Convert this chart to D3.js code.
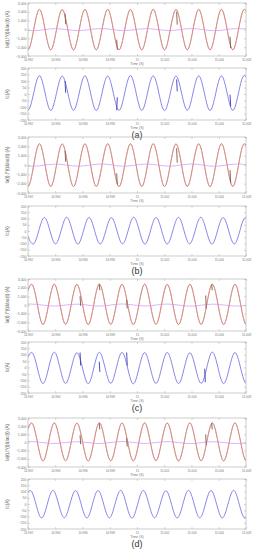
<!DOCTYPE html>
<html lang="en">

<head>
    <meta charset="utf-8">
    <title>Ia / Iac waveforms (a)-(d)</title>
    <script src="https://d3js.org/d3.v7.min.js"></script>
    <style type="text/css">
        body { margin: 0; background: #fff; }
        svg { display: block; }
        text { font-family: "Liberation Sans", Arial, sans-serif; }
    </style>
</head>

<body>
    <script type="text/javascript">

        //Width and height
        var w = 254,
            h = 550;

        // tick values / labels
        var timeTicks = [14.992, 14.994, 14.996, 14.998, 15, 15.002, 15.004, 15.006, 15.008];
        var timeLabels = ["14.992", "14.994", "14.996", "14.998", "15", "15.002", "15.004", "15.006", "15.008"];
        var topTicks = [-3000, -2000, -1000, 0, 1000, 2000, 3000];
        var bottomTicks = [-200, -150, -100, -50, 0, 50, 100, 150, 200];
        var panelNames = ["(a)", "(b)", "(c)", "(d)"];

        // load current, peaks and troughs [t, A]
        var topWaveAB = [[14.99116, 2260], [14.99200, -2290], [14.99284, 2280], [14.99367, -2300], [14.99451, 2260],
        [14.99534, -2310], [14.99618, 2270], [14.99701, -2300], [14.99785, 2280], [14.99868, -2310], [14.99952, 2270],
        [15.00035, -2300], [15.00119, 2280], [15.00202, -2310], [15.00286, 2260], [15.00369, -2300], [15.00453, 2270],
        [15.00536, -2310], [15.00620, 2280], [15.00703, -2300], [15.00787, 2270], [15.00870, -2300]];

        var topWaveCD = [[14.99144, -2250], [14.99227, 2380], [14.99310, -2250], [14.99393, 2400], [14.99476, -2230],
        [14.99559, 2380], [14.99642, -2260], [14.99724, 2410], [14.99807, -2240], [14.99890, 2390], [14.99973, -2250],
        [15.00056, 2400], [15.00139, -2230], [15.00222, 2380], [15.00305, -2260], [15.00388, 2400], [15.00471, -2240],
        [15.00553, 2390], [15.00636, -2250], [15.00719, 2400], [15.00802, -2250], [15.00885, 2380]];

        // small pink trace near zero
        var pinkAB = [[14.9912, 0], [14.9924, -130], [14.9940, 90], [14.9957, -120], [14.9974, 110], [14.9990, -130],
        [15.0007, 100], [15.0024, -120], [15.0040, 110], [15.0057, -140], [15.0073, 100], [15.0090, -110]];
        var pinkCD = [[14.9910, 60], [14.9922, 110], [14.9939, -120], [14.9956, 100], [14.9972, -130], [14.9989, 120],
        [15.0006, -120], [15.0022, 110], [15.0039, -130], [15.0056, 100], [15.0072, -120], [15.0090, 90]];

        // compensating current [t, A]
        var bottomA = [[14.99116, 140], [14.99200, -124], [14.99284, 141], [14.99367, -127], [14.99451, 138],
        [14.99534, -125], [14.99618, 140], [14.99701, -127], [14.99785, 138], [14.99868, -126], [14.99952, 142],
        [15.00035, -126], [15.00119, 140], [15.00202, -128], [15.00286, 138], [15.00369, -125], [15.00453, 140],
        [15.00536, -127], [15.00620, 139], [15.00703, -126], [15.00787, 142], [15.00870, -125]];

        var bottomB = [[14.99156, 106], [14.99238, -104], [14.99320, 108], [14.99402, -103], [14.99484, 110],
        [14.99566, -105], [14.99648, 108], [14.99730, -104], [14.99812, 107], [14.99894, -103], [14.99976, 110],
        [15.00058, -105], [15.00140, 108], [15.00222, -104], [15.00304, 109], [15.00386, -103], [15.00468, 110],
        [15.00550, -105], [15.00632, 108], [15.00714, -104], [15.00796, 107], [15.00878, -104]];

        var bottomC = [[14.99144, -124], [14.99227, 118], [14.99310, -126], [14.99393, 120], [14.99476, -125],
        [14.99559, 116], [14.99642, -127], [14.99724, 119], [14.99807, -124], [14.99890, 118], [14.99973, -128],
        [15.00056, 117], [15.00139, -125], [15.00222, 118], [15.00305, -126], [15.00388, 116], [15.00471, -124],
        [15.00553, 121], [15.00636, -126], [15.00719, 117], [15.00802, -125], [15.00885, 118]];

        var bottomD = [[14.99134, -110], [14.99217, 108], [14.99300, -112], [14.99383, 109], [14.99466, -110],
        [14.99549, 107], [14.99632, -112], [14.99714, 108], [14.99797, -111], [14.99880, 109], [14.99963, -113],
        [15.00046, 108], [15.00129, -110], [15.00212, 107], [15.00295, -112], [15.00378, 109], [15.00461, -111],
        [15.00543, 108], [15.00626, -112], [15.00709, 109], [15.00792, -113], [15.00875, 108]];

        // switching spikes [t, from, to]
        var spikesTopA = [[14.99472, 1800, 600], [14.99851, -1150, -2300], [15.00291, 2000, 550], [15.00683, -800, -2100]];
        var spikesTopB = [[14.99472, 1500, 350], [14.99851, -900, -2100], [15.00291, 1800, 250], [15.00683, -550, -1900]];
        var spikesTopC = [[14.99582, 1000, -100], [14.99723, 2400, 1700], [14.99924, 600, -400], [15.00504, 1100, -400], [15.00548, 2400, 1700]];
        var spikesTopD = [[14.99582, 900, -200], [14.99723, 2350, 1600], [14.99924, 500, -500], [15.00504, 1000, -300], [15.00548, 2400, 1600]];
        var spikesBottomA = [[14.99472, 100, 10], [14.99851, -125, -25], [15.00291, 112, 20], [15.00683, -5, -95]];
        var spikesBottomC = [[14.99582, 118, 15], [14.99723, 45, -35], [14.99924, 118, 15], [15.00497, -10, -115]];

        // layout of each panel: top plot [y0, y1], bottom plot [y0, y1], letter baseline
        var panels = [
            { top: [3, 56], bot: [68, 120], letter: 137.7, main: topWaveAB, pink: pinkAB, spikes: spikesTopA, cur: bottomA, curSpikes: spikesBottomA },
            { top: [137, 193], bot: [206, 256], letter: 273.7, main: topWaveAB, pink: pinkAB, spikes: spikesTopB, cur: bottomB, curSpikes: [] },
            { top: [279, 331], bot: [342, 393], letter: 410.7, main: topWaveCD, pink: pinkCD, spikes: spikesTopC, cur: bottomC, curSpikes: spikesBottomC },
            { top: [418, 467], bot: [479, 529], letter: 546.7, main: topWaveCD, pink: pinkCD, spikes: spikesTopD, cur: bottomD, curSpikes: [] }
        ];

        var xScale = d3.scaleLinear()
            .domain([14.992, 15.008])
            .range([28, 246]);

        //Create SVG element
        var svg = d3.select("body")
            .append("svg")
            .attr("width", w)
            .attr("height", h);

        var clipId = 0;

        function drawPlot(y0, y1, ticks, yLabel, series, spikes) {
            var yScale = d3.scaleLinear()
                .domain([ticks[0], ticks[ticks.length - 1]])
                .range([y1, y0]);

            var g = svg.append("g");

            clipId++;
            g.append("clipPath")
                .attr("id", "clip" + clipId)
                .append("rect")
                .attr("x", 28)
                .attr("y", y0)
                .attr("width", 218)
                .attr("height", y1 - y0);

            var line = d3.line()
                .x(function (d) { return xScale(d[0]); })
                .y(function (d) { return yScale(d[1]); })
                .curve(d3.curveMonotoneX);

            var plot = g.append("g").attr("clip-path", "url(#clip" + clipId + ")");

            series.forEach(function (s) {
                plot.append("path")
                    .datum(s.data)
                    .attr("d", line)
                    .attr("fill", "none")
                    .attr("stroke", s.color)
                    .attr("stroke-width", s.width)
                    .attr("opacity", s.opacity);
            });

            plot.selectAll("line.spike").data(spikes.data)
                .enter()
                .append("line")
                .attr("class", "spike")
                .attr("x1", function (d) { return xScale(d[0]); })
                .attr("x2", function (d) { return xScale(d[0]) + 0.6; })
                .attr("y1", function (d) { return yScale(d[1]); })
                .attr("y2", function (d) { return yScale(d[2]); })
                .attr("stroke", spikes.color)
                .attr("stroke-width", 0.9);

            // axes, ticks pointing inward
            var left = g.append("g")
                .attr("transform", "translate(28,0)")
                .call(d3.axisLeft(yScale).tickValues(ticks).tickSizeInner(-2).tickSizeOuter(0).tickPadding(1.5));
            var right = g.append("g")
                .attr("transform", "translate(246,0)")
                .call(d3.axisRight(yScale).tickValues(ticks).tickSizeInner(-2).tickSizeOuter(0).tickFormat(""));
            var bottom = g.append("g")
                .attr("transform", "translate(0," + y1 + ")")
                .call(d3.axisBottom(xScale).tickValues(timeTicks).tickSizeInner(-2).tickSizeOuter(0).tickPadding(2.5)
                    .tickFormat(function (d, i) { return timeLabels[i]; }));
            var top = g.append("g")
                .attr("transform", "translate(0," + y0 + ")")
                .call(d3.axisTop(xScale).tickValues(timeTicks).tickSizeInner(-2).tickSizeOuter(0).tickFormat(""));

            [left, right, bottom, top].forEach(function (a) {
                a.select(".domain").remove();
                a.selectAll("line").attr("stroke", "#aaa").attr("stroke-width", 0.5);
                a.selectAll("text").attr("font-size", "3.5px").attr("fill", "#777").attr("font-family", null);
            });
            bottom.selectAll("text").attr("font-size", "3px");

            g.append("rect")
                .attr("x", 28)
                .attr("y", y0)
                .attr("width", 218)
                .attr("height", y1 - y0)
                .attr("fill", "none")
                .attr("stroke", "#aaa")
                .attr("stroke-width", 0.6);

            g.append("text")
                .text("Time (S)")
                .attr("x", 137)
                .attr("y", y1 + 8.7)
                .attr("text-anchor", "middle")
                .attr("font-size", "3.5px")
                .attr("fill", "#777");

            g.append("text")
                .text(yLabel)
                .attr("transform", "translate(9," + ((y0 + y1) / 2) + ") rotate(-90)")
                .attr("text-anchor", "middle")
                .attr("font-size", "4.5px")
                .attr("fill", "#666");
        }

        panels.forEach(function (p, i) {
            drawPlot(p.top[0], p.top[1], topTicks, "Ia(t),I*(t)&Iac(t) (A)", [
                { data: p.main, color: "#ec6a78", width: 0.8, opacity: 1 },
                { data: p.main, color: "#b8967c", width: 0.8, opacity: 0.75 },
                { data: p.pink, color: "#d690ee", width: 0.7, opacity: 1 }
            ], { data: p.spikes, color: "#7a5a48" });

            drawPlot(p.bot[0], p.bot[1], bottomTicks, "Ic(A)", [
                { data: p.cur, color: "#7070e6", width: 0.85, opacity: 1 }
            ], { data: p.curSpikes, color: "#3a3ab0" });

            svg.append("text")
                .text(panelNames[i])
                .attr("x", 137)
                .attr("y", p.letter)
                .attr("text-anchor", "middle")
                .attr("font-size", "9px")
                .attr("fill", "#333");
        });

    </script>
</body>

</html>
